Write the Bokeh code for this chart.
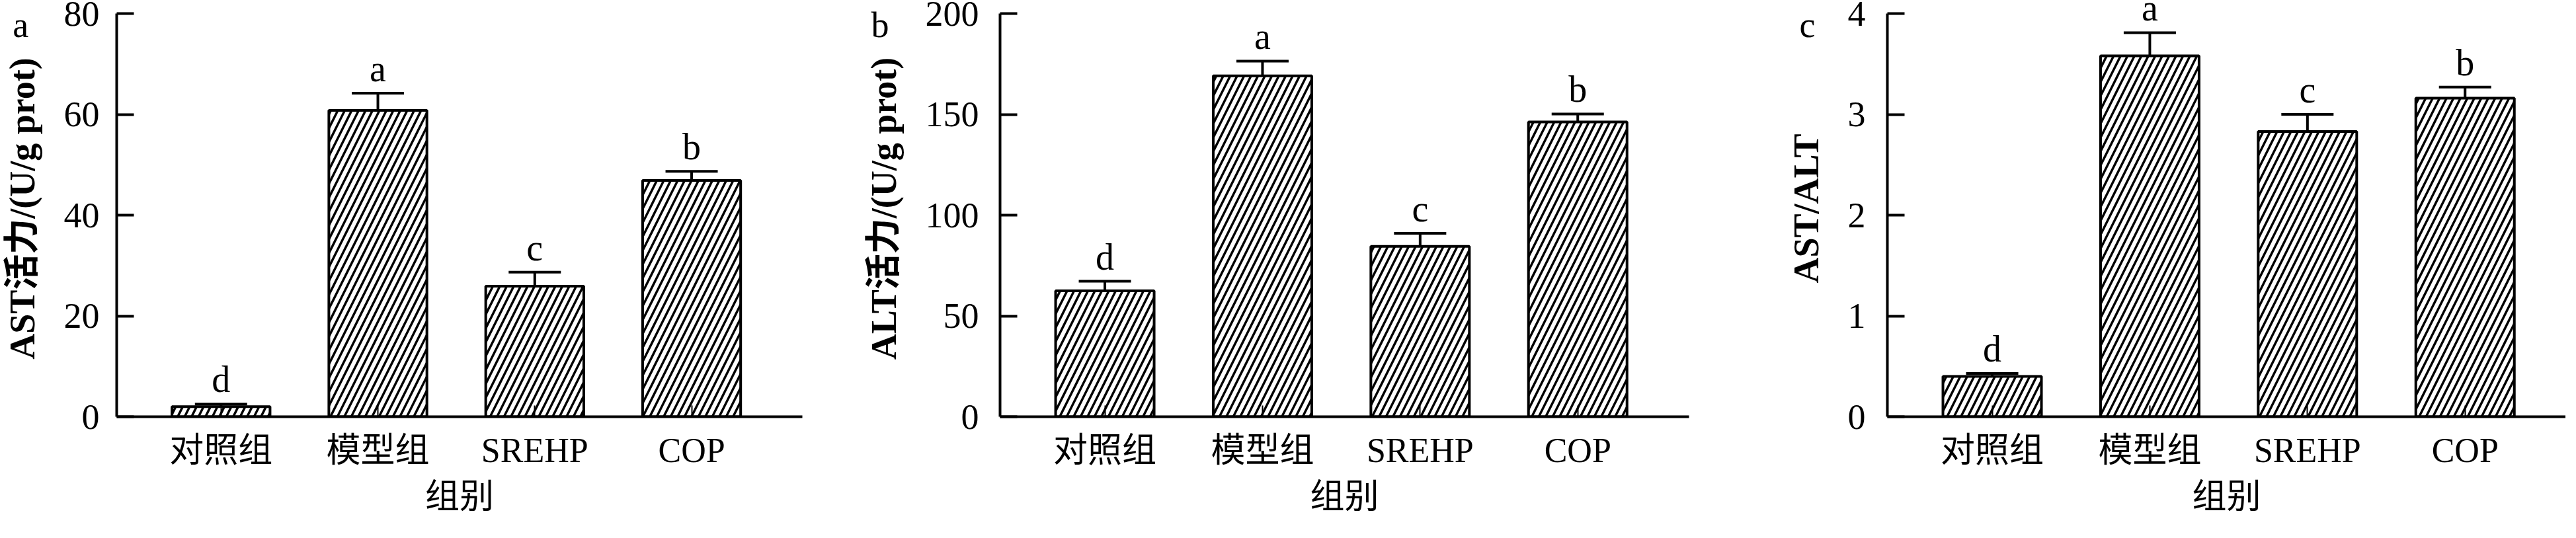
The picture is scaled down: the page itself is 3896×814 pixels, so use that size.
from bokeh.plotting import figure
from bokeh.models import ColumnDataSource, Whisker, TeeHead, FixedTicker, Label, LabelSet
from bokeh.layouts import row
from bokeh.embed import file_html
from bokeh.resources import INLINE

# ---------------- data ----------------
categories = ["对照组", "模型组", "SREHP", "COP"]

ast_values = [2.0, 60.8, 25.9, 46.9]
ast_errors = [0.5, 3.4, 2.8, 1.8]
ast_letters = ["d", "a", "c", "b"]
ast_ticks = [0, 20, 40, 60, 80]

alt_values = [62.5, 169.1, 84.5, 146.2]
alt_errors = [4.7, 7.3, 6.5, 4.0]
alt_letters = ["d", "a", "c", "b"]
alt_ticks = [0, 50, 100, 150, 200]

ratio_values = [0.40, 3.58, 2.83, 3.16]
ratio_errors = [0.03, 0.23, 0.17, 0.11]
ratio_letters = ["d", "a", "c", "b"]
ratio_ticks = [0, 1, 2, 3, 4]

x_title = "组别"
panel_tags = ["a", "b", "c"]
y_titles = ["AST活力/(U/g prot)", "ALT活力/(U/g prot)", "AST/ALT"]

# ---------------- style ----------------
FONT = "Liberation Serif, Noto Sans CJK SC"
H = 798
TOP = 0
BOTTOM = 168
FRAME_H = H - TOP - BOTTOM   # frame spans page y 8 .. 638
AXIS_SPAN = 610              # px between zero and top tick
SPACING = 238.4              # px per category
X_START = -0.665


def panel(vals, errs, letters, ticks, ylabel, tag, fig_w, left, right, tag_dx,
          label_standoff, tag_side):
    xs = list(range(len(categories)))
    frame_w = fig_w - left - right
    x_end = X_START + frame_w / SPACING
    ymax = ticks[-1]
    ppu = AXIS_SPAN / (ymax - ticks[0])
    y_end = ticks[0] + FRAME_H / ppu
    src = ColumnDataSource(dict(
        x=xs, top=vals, upper=[v + e for v, e in zip(vals, errs)],
        letter=letters, cat=categories))

    p = figure(width=fig_w, height=H, x_range=(X_START, x_end),
               y_range=(ticks[0], y_end), output_backend="svg",
               toolbar_location=None, min_border_left=left,
               min_border_right=right, min_border_top=TOP,
               min_border_bottom=BOTTOM, outline_line_color=None,
               background_fill_color="white", border_fill_color="white")

    p.vbar(x="x", top="top", bottom=0, width=0.625, source=src,
           fill_color="white", line_color="black", line_width=4,
           hatch_pattern="/", hatch_color="black", hatch_weight=3.5,
           hatch_scale=21)

    w = Whisker(base="x", upper="upper", lower="top", source=src,
                line_color="black", line_width=4,
                upper_head=TeeHead(size=79, line_width=4, line_color="black"),
                lower_head=None, level="overlay")
    p.add_layout(w)

    ls = LabelSet(x="x", y="upper", text="letter", source=src,
                  text_align="center", text_baseline="alphabetic",
                  y_offset=18, text_font=FONT, text_font_size="56px",
                  text_color="black")
    p.add_layout(ls)

    # panel tag, left of the y axis, near the top tick (side panel: not clipped)
    tag_label = Label(x=X_START + tag_dx / SPACING, y=ymax - 17 / ppu,
                      x_units="data", y_units="data",
                      text=tag, text_font=FONT,
                      text_font_size="54px", text_baseline="alphabetic",
                      text_align="left", text_color="black")
    p.add_layout(tag_label, tag_side)

    p.xgrid.visible = False
    p.ygrid.visible = False

    ya = p.yaxis[0]
    ya.ticker = FixedTicker(ticks=ticks)
    ya.bounds = (ticks[0], ymax)
    ya.axis_line_width = 4
    ya.axis_line_color = "black"
    ya.major_tick_in = 26
    ya.major_tick_out = 0
    ya.major_tick_line_width = 4
    ya.minor_tick_line_color = None
    ya.major_label_text_font = FONT
    ya.major_label_text_font_size = "54px"
    ya.major_label_text_color = "black"
    ya.major_label_standoff = label_standoff
    ya.axis_label = ylabel
    ya.axis_label_text_font = FONT
    ya.axis_label_text_font_size = "54px"
    ya.axis_label_text_font_style = "bold"
    ya.axis_label_text_color = "black"
    ya.axis_label_standoff = 30

    xa = p.xaxis[0]
    xa.ticker = FixedTicker(ticks=xs)
    xa.major_label_overrides = {i: c for i, c in zip(xs, categories)}
    xa.axis_line_width = 4
    xa.axis_line_color = "black"
    xa.major_tick_in = 17
    xa.major_tick_out = 0
    xa.major_tick_line_width = 2
    xa.minor_tick_line_color = None
    xa.major_label_text_font = FONT
    xa.major_label_text_font_size = "52px"
    xa.major_label_text_color = "black"
    xa.major_label_standoff = 22
    xa.axis_label = x_title
    xa.axis_label_text_font = FONT
    xa.axis_label_text_font_size = "52px"
    xa.axis_label_text_font_style = "normal"
    xa.axis_label_text_color = "black"
    xa.axis_label_standoff = 10
    return p


pa = panel(ast_values, ast_errors, ast_letters, ast_ticks, y_titles[0],
           panel_tags[0], 1292, 171, 79, -158, 26, "right")
pb = panel(alt_values, alt_errors, alt_letters, alt_ticks, y_titles[1],
           panel_tags[1], 1300, 220, 38, -195, 32, "right")
pc = panel(ratio_values, ratio_errors, ratio_letters, ratio_ticks, y_titles[2],
           panel_tags[2], 1288, 262, 0, -133, 33, "left")

layout = row(pa, pb, pc, spacing=0)

open("out.html", "w").write(file_html(layout, INLINE))
